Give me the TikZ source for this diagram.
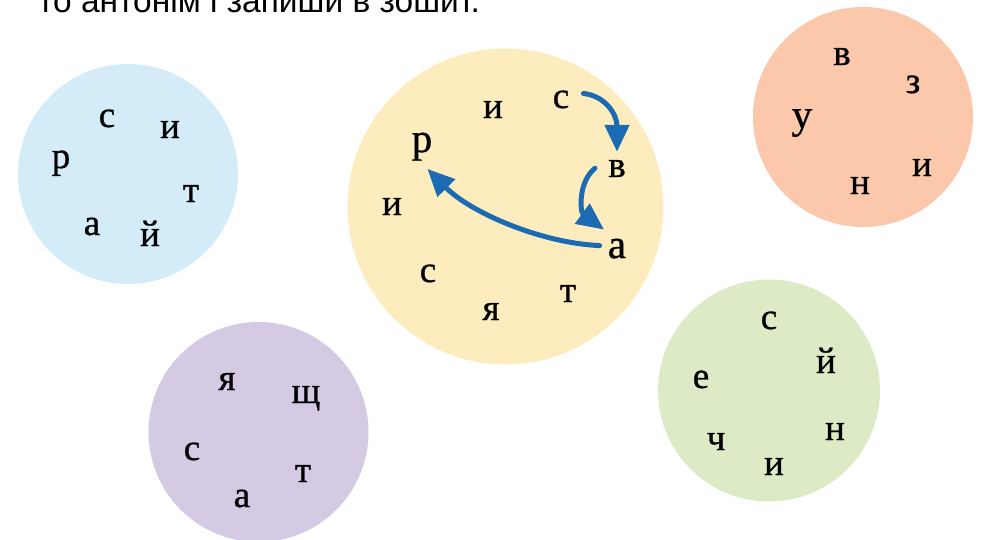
\documentclass[tikz,border=0pt]{standalone}
\usepackage{fontspec}
\setmainfont{Liberation Serif}
\newfontfamily\ltrfont[FakeBold=0.8]{Liberation Serif}
\newfontfamily\headfont{Liberation Sans}
\usetikzlibrary{arrows.meta}
\definecolor{cblue}{HTML}{D3ECF8}
\definecolor{cyellow}{HTML}{FDEDBE}
\definecolor{corange}{HTML}{FCC8AB}
\definecolor{cpurple}{HTML}{D5CAE4}
\definecolor{cgreen}{HTML}{DCEBC5}
\definecolor{arrowblue}{HTML}{1B6AB4}
\tikzset{
  ltr/.style={anchor=base, inner sep=0pt, font=\ltrfont\fontsize{37}{40}\selectfont},
  bigltr/.style={anchor=base, inner sep=0pt, font=\ltrfont\fontsize{41}{44}\selectfont},
  disc/.style={circle, inner sep=0pt, minimum size=#1},
  movearrow/.style={draw=arrowblue, line width=5pt, line cap=round, -{Triangle[length=27pt,width=24pt]}}
}
\begin{document}
\begin{tikzpicture}[x=1pt,y=-1pt]
\useasboundingbox (0,0) rectangle (983,539);
\fill[white] (0,0) rectangle (983,539);
% heading (cut at top)
\node[anchor=base west, inner sep=0pt, font=\headfont\fontsize{33.5}{36}\selectfont] (head) at (38,12) {то антонім і запиши в зошит.};
% discs
\node[disc=220pt, fill=cblue] (blue) at (128,174) {};
\node[disc=316pt, fill=cyellow] (yellow) at (505.5,206.5) {};
\node[disc=220pt, fill=corange] (orange) at (863,117) {};
\node[disc=220pt, fill=cpurple] (purple) at (258.5,432) {};
\node[disc=222pt, fill=cgreen] (green) at (769,390.5) {};
% blue letters
\node[ltr] (b1) at (107,127) {с};
\node[ltr] (b2) at (170,138) {и};
\node[ltr] (b3) at (61,168) {р};
\node[ltr] (b4) at (191,202) {т};
\node[ltr] (b5) at (92,235) {а};
\node[ltr] (b6) at (150,246) {й};
% yellow letters
\node[ltr] (y1) at (493,118) {и};
\node[ltr] (y2) at (561,108) {с};
\node[bigltr] (y3) at (422,152) {р};
\node[ltr] (y4) at (617,177) {в};
\node[ltr] (y5) at (392,215) {и};
\node[bigltr] (y6) at (617,258) {а};
\node[ltr] (y7) at (428,282) {с};
\node[ltr] (y8) at (568,302) {т};
\node[ltr] (y9) at (491,320) {я};
% orange letters
\node[ltr] (o1) at (842,65) {в};
\node[ltr] (o2) at (913,93) {з};
\node[bigltr] (o3) at (802,128) {у};
\node[ltr] (o4) at (922,176) {и};
\node[ltr] (o5) at (860,194) {н};
% purple letters
\node[ltr] (p1) at (227,390) {я};
\node[ltr] (p2) at (306,403) {щ};
\node[ltr] (p3) at (192,460) {с};
\node[ltr] (p4) at (303,482) {т};
\node[ltr] (p5) at (242,507) {а};
% green letters
\node[ltr] (g1) at (769,329) {с};
\node[ltr] (g2) at (826,373) {й};
\node[ltr] (g3) at (701,388) {е};
\node[ltr] (g4) at (835,440) {н};
\node[ltr] (g5) at (716,450) {ч};
\node[ltr] (g6) at (774,475) {и};
% arrows (shifts are in page units: positive yshift moves up)
\coordinate (a1s) at ([xshift=14pt,yshift=6pt]y2.east);
\coordinate (a1e) at ([yshift=8pt]y4.north);
\coordinate (a2s) at ([xshift=-22pt,yshift=9pt]y4.south);
\coordinate (a2e) at ([xshift=-13pt,yshift=9pt]y6.north);
\coordinate (a3s) at ([xshift=-8pt,yshift=3pt]y6.west);
\coordinate (a3e) at ([xshift=-5pt,yshift=-8pt]y3.south east);
\draw[movearrow] (a1s) .. controls (606,96) and (617,115) .. (a1e);
\draw[movearrow] (a2s) .. controls (578,182) and (580,212) .. (a2e);
\draw[movearrow] (a3s) .. controls (540,243) and (470,212) .. (a3e);
\end{tikzpicture}
\end{document}
